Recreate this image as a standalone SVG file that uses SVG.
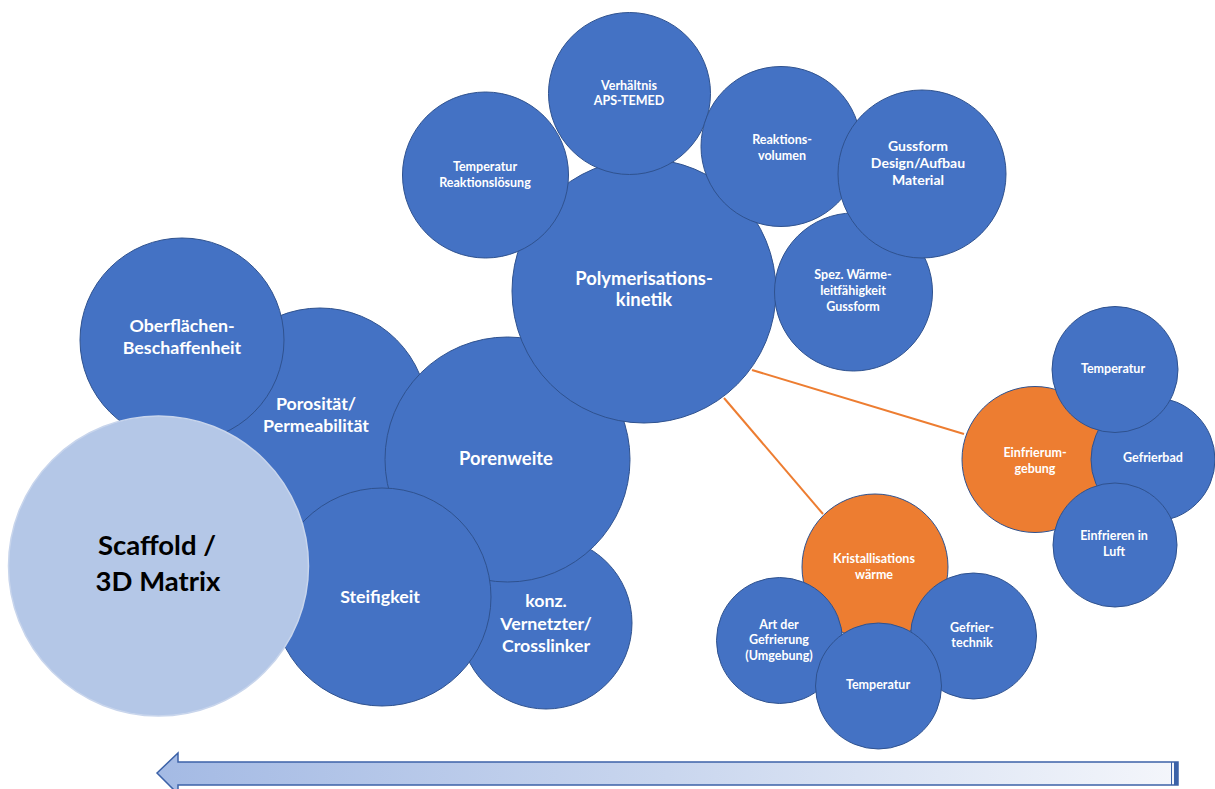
<svg xmlns="http://www.w3.org/2000/svg" width="1215" height="789" viewBox="0 0 1215 789">
<defs>
<linearGradient id="arrowGrad" x1="0" y1="0" x2="1" y2="0">
<stop offset="0" stop-color="#a4bae4"/>
<stop offset="0.5" stop-color="#c9d6ee"/>
<stop offset="1" stop-color="#f4f6fb"/>
</linearGradient>
</defs>
<style>
.b{fill:#4472c4;stroke:#2f528f;stroke-width:1}
.o{fill:#ed7d31;stroke:#2f528f;stroke-width:1}
.s{fill:#b4c7e7;stroke:#c8d5ec;stroke-width:1.5}
text{font-family:Lato,"Liberation Sans",sans-serif;font-weight:bold;fill:#ffffff;text-anchor:middle}
.t19{font-size:18.4px}
.t18{font-size:17.8px}
.t14{font-size:14px}
.t13{font-size:12.5px}
.big{font-size:27.5px;fill:#000000}
.conn{stroke:#ed7d31;stroke-width:2;fill:none}
</style>

<g id="connectors">
<line class="conn" x1="752" y1="370" x2="964" y2="434"/>
<line class="conn" x1="724" y1="398" x2="823" y2="514"/>
</g>

<g id="porositaet">
<circle class="b" cx="320" cy="416" r="108"/>
<text class="t18" x="316" y="410">Porosität/</text>
<text class="t18" x="316" y="432">Permeabilität</text>
</g>
<g id="oberflaechen">
<circle class="b" cx="182" cy="340" r="102"/>
<text class="t18" x="182" y="332">Oberflächen-</text>
<text class="t18" x="182" y="354">Beschaffenheit</text>
</g>
<g id="konz">
<circle class="b" cx="546" cy="623" r="86"/>
<text class="t18" x="546" y="607">konz.</text>
<text class="t18" x="546" y="630">Vernetzter/</text>
<text class="t18" x="546" y="652">Crosslinker</text>
</g>
<g id="porenweite">
<circle class="b" cx="507.5" cy="459.5" r="122.5"/>
<text class="t19" x="506" y="465">Porenweite</text>
</g>
<g id="steifigkeit">
<circle class="b" cx="382" cy="597" r="109"/>
<text class="t18" x="380" y="603">Steifigkeit</text>
</g>
<g id="polymerisation">
<circle class="b" cx="644" cy="291" r="132"/>
<text class="t19" x="644" y="285">Polymerisations-</text>
<text class="t19" x="644" y="306">kinetik</text>
</g>
<g id="temp-reaktion">
<circle class="b" cx="485.5" cy="175" r="83"/>
<text class="t13" x="485" y="171">Temperatur</text>
<text class="t13" x="485" y="187">Reaktionslösung</text>
</g>
<g id="verhaeltnis">
<circle class="b" cx="629.5" cy="93.5" r="81"/>
<text class="t13" x="629" y="90">Verhältnis</text>
<text class="t13" x="629" y="105">APS-TEMED</text>
</g>
<g id="reaktionsvolumen">
<circle class="b" cx="781" cy="146.5" r="80"/>
<text class="t13" x="782" y="144">Reaktions-</text>
<text class="t13" x="782" y="160">volumen</text>
</g>
<g id="spez-waerme">
<circle class="b" cx="853.5" cy="292" r="79"/>
<text class="t13" x="853" y="279">Spez. Wärme-</text>
<text class="t13" x="853" y="295">leitfähigkeit</text>
<text class="t13" x="853" y="311">Gussform</text>
</g>
<g id="gussform">
<circle class="b" cx="922" cy="174" r="84"/>
<text class="t14" x="918" y="150.5">Gussform</text>
<text class="t14" x="918" y="167.5">Design/Aufbau</text>
<text class="t14" x="918" y="184.5">Material</text>
</g>
<g id="scaffold">
<circle class="s" cx="158.5" cy="566" r="150"/>
<text class="big" x="157" y="555">Scaffold /</text>
<text class="big" x="158" y="591">3D Matrix</text>
</g>

<g id="einfrierumgebung">
<circle class="o" cx="1035" cy="459.5" r="73"/>
<text class="t13" x="1035" y="457">Einfrierum-</text>
<text class="t13" x="1035" y="473">gebung</text>
</g>
<g id="gefrierbad">
<circle class="b" cx="1153" cy="459.5" r="62"/>
<text class="t13" x="1153" y="462">Gefrierbad</text>
</g>
<g id="temperatur-oben">
<circle class="b" cx="1115" cy="369.5" r="63"/>
<text class="t13" x="1113" y="373">Temperatur</text>
</g>
<g id="einfrieren-luft">
<circle class="b" cx="1115" cy="545" r="62"/>
<text class="t13" x="1114" y="540">Einfrieren in</text>
<text class="t13" x="1114" y="556">Luft</text>
</g>

<g id="kristallisation">
<circle class="o" cx="875" cy="567" r="73"/>
<text class="t13" x="874" y="563">Kristallisations</text>
<text class="t13" x="874" y="579">wärme</text>
</g>
<g id="art-gefrierung">
<circle class="b" cx="779.5" cy="640.5" r="63"/>
<text class="t13" x="779" y="629">Art der</text>
<text class="t13" x="779" y="644">Gefrierung</text>
<text class="t13" x="779" y="660">(Umgebung)</text>
</g>
<g id="gefriertechnik">
<circle class="b" cx="973.5" cy="636" r="63"/>
<text class="t13" x="972" y="632">Gefrier-</text>
<text class="t13" x="972" y="647">technik</text>
</g>
<g id="temperatur-unten">
<circle class="b" cx="878.5" cy="686" r="63"/>
<text class="t13" x="878" y="689">Temperatur</text>
</g>

<g id="arrow">
<path d="M157,773 L178,753 L178,762 L1178,762 L1178,785 L178,785 L178,794 Z" fill="url(#arrowGrad)" stroke="#3c62a8" stroke-width="1.5"/>
<line x1="1171.5" y1="762" x2="1171.5" y2="785" stroke="#3c62a8" stroke-width="1"/>
<rect x="1174" y="762" width="4" height="23" fill="#3c62a8"/>
</g>
</svg>
